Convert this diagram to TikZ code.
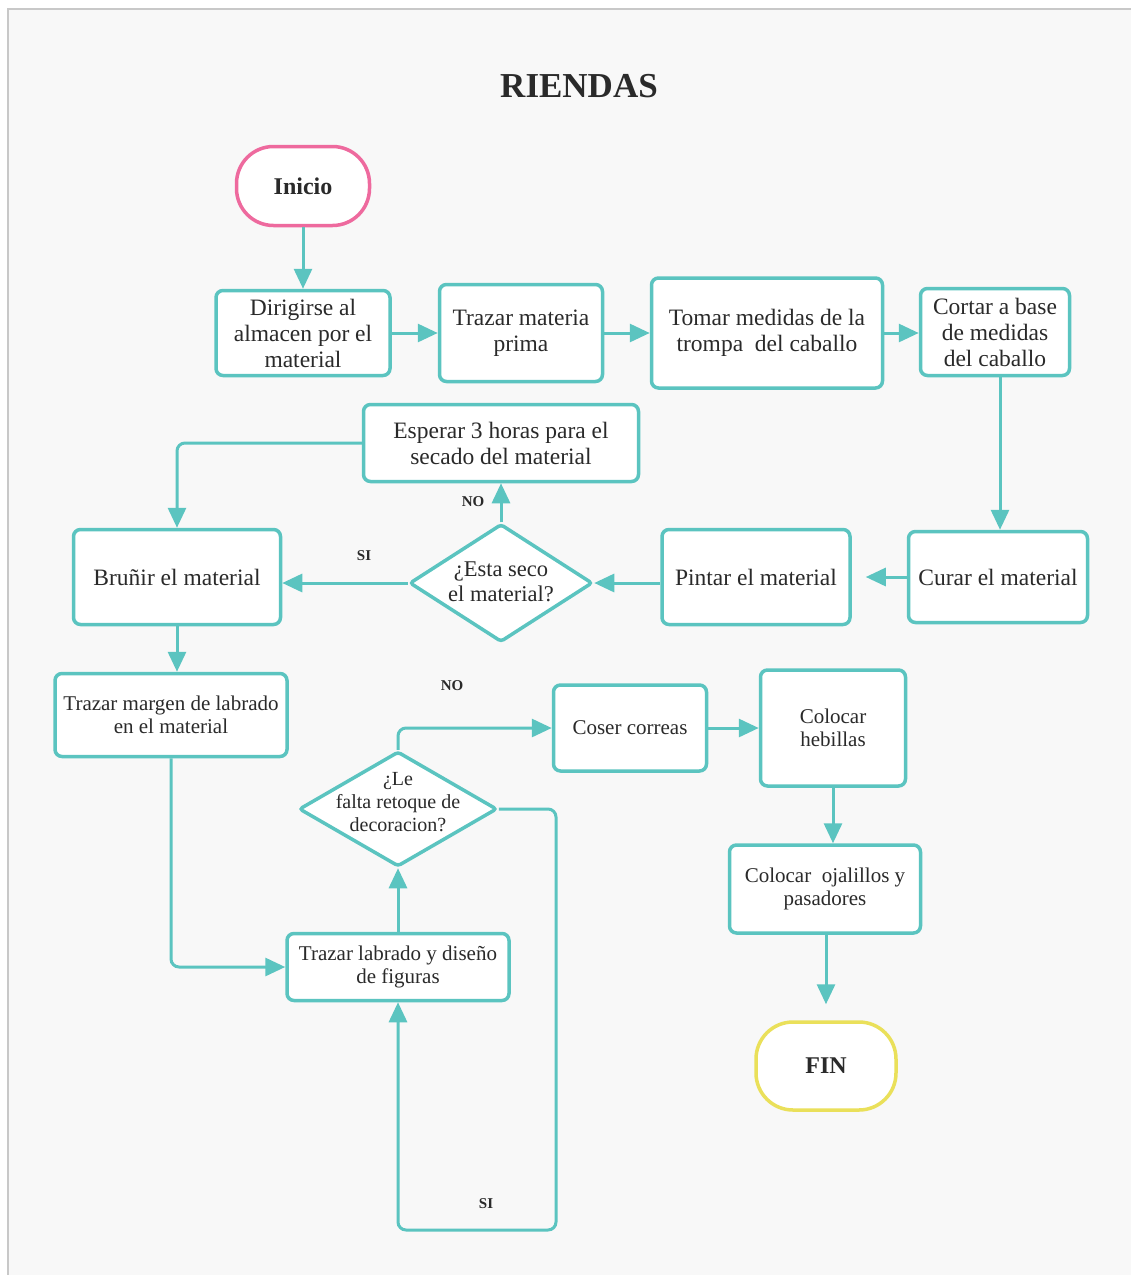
\documentclass[tikz,border=0pt]{standalone}
\usepackage{fontspec}
\setmainfont{Liberation Serif}
\usetikzlibrary{shapes.geometric,arrows.meta}
\definecolor{flowteal}{HTML}{5BC4C0}
\definecolor{startpink}{HTML}{EE6A9E}
\definecolor{endyellow}{HTML}{EAE05A}
\definecolor{panel}{HTML}{F8F8F8}
\definecolor{paneledge}{HTML}{C8C8C8}
\definecolor{ink}{HTML}{2A2A2A}
\begin{document}
\begin{tikzpicture}[x=1pt,y=-1pt,
  every node/.style={text=ink},
  stepbox/.style={draw=flowteal, line width=3.5pt, fill=white, rounded corners=7pt,
    align=center, inner sep=1pt, font=\fontsize{23.5}{26}\selectfont},
  smallbox/.style={stepbox, font=\fontsize{21}{23}\selectfont},
  terminal/.style={line width=3.5pt, fill=white, rounded corners=37pt,
    align=center, font=\bfseries\fontsize{24}{26}\selectfont},
  decision/.style={diamond, draw=flowteal, line width=3.5pt, fill=white,
    inner sep=0pt, rounded corners=3pt},
  dtext/.style={align=center},
  tag/.style={font=\bfseries\fontsize{15}{16}\selectfont},
  arr/.style={draw=flowteal, line width=3pt, rounded corners=8pt,
    -{Triangle[length=20pt,width=18pt]}}
]
\useasboundingbox (0,0) rectangle (1131,1275);
\fill[white] (0,0) rectangle (1131,1275);
\fill[panel] (8,9) rectangle (1131,1275);
\draw[paneledge, line width=1.5pt] (8,1275) -- (8,9) -- (1131,9);

\node[font=\bfseries\fontsize{35}{40}\selectfont] (title) at (579,86) {RIENDAS};

% start and end
\node[terminal, draw=startpink, minimum width=133, minimum height=79] (ini) at (303,186) {Inicio};
\node[terminal, draw=endyellow, minimum width=140, minimum height=88] (fin) at (826,1066) {FIN};

% first row
\node[stepbox, minimum width=174, minimum height=85] (dir) at (303,333) {Dirigirse al\\almacen por el\\material};
\node[stepbox, minimum width=163, minimum height=97] (traz) at (521,333) {Trazar materia\\prima};
\node[stepbox, minimum width=231, minimum height=110] (tom) at (767,333) {Tomar medidas de la\\trompa\ \ del caballo};
\node[stepbox, minimum width=149, minimum height=87] (cort) at (995,332) {Cortar a base\\de medidas\\del caballo};

% second row
\node[stepbox, minimum width=179, minimum height=91] (cur) at (998,577) {Curar el material};
\node[stepbox, minimum width=188, minimum height=95] (pin) at (756,577) {Pintar el material};
\node[decision, minimum width=183, minimum height=118] (d1) at (501,583) {};
\node[dtext, font=\fontsize{22.5}{25}\selectfont] (d1t) at (501,582) {¿Esta seco\\el material?};
\node[stepbox, minimum width=275, minimum height=77] (esp) at (501,443) {Esperar 3 horas para el\\secado del material};
\node[stepbox, minimum width=207, minimum height=95] (brun) at (177,577) {Bruñir el material};

% decoration stage
\node[smallbox, minimum width=232, minimum height=83] (marg) at (171,715) {Trazar margen de labrado\\en el material};
\node[decision, minimum width=198, minimum height=115] (d2) at (398,809) {};
\node[dtext, font=\fontsize{20}{23}\selectfont] (d2t) at (398,802) {¿Le\\falta retoque de\\decoracion?};
\node[smallbox, minimum width=222, minimum height=67] (lab) at (398,967) {Trazar labrado y diseño\\de figuras};

% finishing
\node[smallbox, minimum width=153, minimum height=86] (cos) at (630,728) {Coser correas};
\node[smallbox, minimum width=145, minimum height=116] (heb) at (833,728) {Colocar\\hebillas};
\node[smallbox, minimum width=191, minimum height=88] (ojo) at (825,889) {Colocar\ \ ojalillos y\\pasadores};

\coordinate (loopR) at (556,1230);

% connectors
\draw[arr] (ini.south) -- (dir.north);
\draw[arr] (dir.east) -- (traz.west);
\draw[arr] (traz.east) -- (tom.west);
\draw[arr] (tom.east) -- (cort.west |- tom.east);
\draw[arr] (cort.south -| 1000,0) -- (cur.north -| 1000,0);
\draw[arr, shorten >=14pt] (cur.west) -- (pin.east);
\draw[arr] (pin.west |- d1.east) -- (d1.east);
\draw[arr] (d1.north) -- (esp.south);
\draw[arr] (d1.west) -- (brun.east |- d1.west);
\draw[arr] (esp.west) -| (brun.north);
\draw[arr] (brun.south) -- (marg.north -| brun.south);
\draw[arr] (marg.south) |- (lab.west);
\draw[arr] (lab.north) -- (d2.south);
\draw[arr] (d2.north) |- (cos.west);
\draw[arr] (d2.east) -| (loopR) -| (lab.south);
\draw[arr] (cos.east) -- (heb.west |- cos.east);
\draw[arr] (heb.south) -- (heb.south |- ojo.north);
\draw[arr, shorten >=16pt] (ojo.south -| fin.north) -- (fin.north);

% branch labels
\node[tag] (no1) at (473,502) {NO};
\node[tag] (si1) at (364,556) {SI};
\node[tag] (no2) at (452,686) {NO};
\node[tag] (si2) at (486,1204) {SI};
\end{tikzpicture}
\end{document}
